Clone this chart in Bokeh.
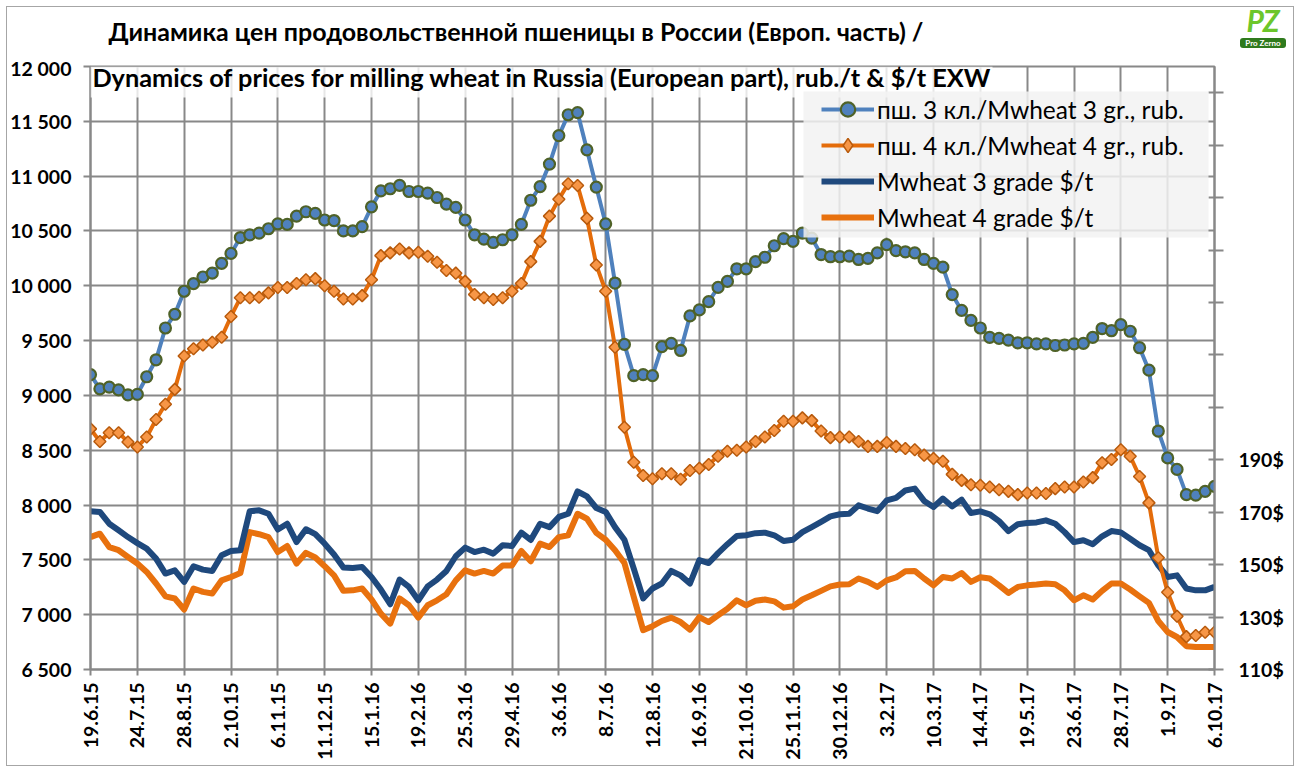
import math
from bokeh.plotting import figure
from bokeh.layouts import column
from bokeh.models import (Range1d, LinearAxis, FixedTicker, CustomJSTickFormatter,
                          Legend, LegendItem, Label, BoxAnnotation, Div)
from bokeh.embed import file_html
from bokeh.resources import INLINE

# ---------------- data ----------------
tick_labels = ["19.6.15", "24.7.15", "28.8.15", "2.10.15", "6.11.15", "11.12.15", "15.1.16",
               "19.2.16", "25.3.16", "29.4.16", "3.6.16", "8.7.16", "12.8.16", "16.9.16",
               "21.10.16", "25.11.16", "30.12.16", "3.2.17", "10.3.17", "14.4.17", "19.5.17",
               "23.6.17", "28.7.17", "1.9.17", "6.10.17"]
weeks_per_label = 5

rub3 = [9190, 9060, 9075, 9050, 9005, 9010, 9170, 9325, 9615, 9740,
        9950, 10020, 10080, 10115, 10205, 10295, 10440, 10465, 10480, 10520,
        10565, 10560, 10635, 10675, 10660, 10600, 10595, 10500, 10500, 10540,
        10720, 10865, 10885, 10915, 10860, 10860, 10845, 10805, 10745, 10715,
        10600, 10465, 10425, 10395, 10420, 10465, 10560, 10780, 10905, 11110,
        11370, 11560, 11580, 11240, 10900, 10565, 10025, 9465, 9180, 9190,
        9180, 9445, 9475, 9410, 9725, 9780, 9855, 9985, 10040, 10155,
        10155, 10220, 10260, 10365, 10430, 10405, 10480, 10435, 10285, 10265,
        10265, 10270, 10240, 10250, 10300, 10375, 10320, 10310, 10300, 10240,
        10205, 10170, 9920, 9775, 9685, 9615, 9530, 9520, 9505, 9480,
        9480, 9470, 9470, 9455, 9460, 9470, 9475, 9530, 9610, 9590,
        9645, 9585, 9435, 9230, 8675, 8430, 8325, 8095, 8090, 8125, 8170]

rub4 = [8695, 8580, 8660, 8660, 8575, 8530, 8620, 8780, 8920, 9055,
        9360, 9425, 9460, 9485, 9530, 9720, 9890, 9890, 9895, 9935,
        9985, 9985, 10020, 10055, 10065, 10000, 9950, 9880, 9880, 9910,
        10055, 10275, 10300, 10335, 10300, 10305, 10270, 10215, 10140, 10115,
        10040, 9920, 9890, 9875, 9890, 9950, 10020, 10220, 10405, 10635,
        10790, 10930, 10915, 10615, 10190, 9950, 9440, 8710, 8390, 8270,
        8240, 8285, 8285, 8235, 8315, 8335, 8370, 8445, 8490, 8500,
        8530, 8580, 8620, 8680, 8765, 8765, 8795, 8770, 8675, 8615,
        8620, 8620, 8580, 8535, 8535, 8570, 8535, 8515, 8505, 8455,
        8425, 8400, 8280, 8225, 8185, 8180, 8165, 8140, 8125, 8095,
        8110, 8110, 8105, 8150, 8165, 8165, 8210, 8250, 8385, 8415,
        8505, 8445, 8260, 8020, 7520, 7205, 6985, 6800, 6810, 6840, 6840]

usd3 = [170.4, 170.1, 165.6, 163.1, 160.5, 158.2, 156.1, 152.3, 146.6, 147.8,
        143.4, 149.4, 148.1, 147.6, 153.6, 155.2, 155.5, 170.4, 170.7, 169.4,
        163.4, 165.6, 158.6, 163.5, 161.6, 158.0, 153.9, 148.9, 148.7, 149.1,
        145.3, 140.5, 134.9, 144.3, 141.5, 136.4, 141.7, 144.3, 147.6, 153.2,
        156.5, 154.8, 155.7, 154.2, 157.4, 157.1, 162.2, 159.4, 165.6, 164.3,
        168.2, 169.4, 177.9, 176.0, 171.6, 170.1, 164.3, 159.5, 148.5, 137.1,
        140.9, 142.8, 147.6, 145.9, 142.8, 151.7, 150.6, 154.4, 157.8, 160.9,
        161.2, 162.0, 162.2, 161.2, 159.0, 159.5, 162.4, 164.3, 166.3, 168.4,
        169.2, 169.4, 172.6, 171.4, 170.4, 174.5, 175.5, 178.3, 179.0, 174.3,
        172.0, 175.2, 172.2, 174.8, 169.7, 170.3, 169.2, 166.6, 162.8, 165.4,
        165.9, 166.1, 166.9, 165.6, 162.4, 158.6, 159.3, 157.8, 160.8, 162.8,
        162.3, 159.9, 157.4, 155.5, 149.7, 145.3, 145.9, 140.9, 140.2, 140.2, 141.5]

usd4 = [160.5, 161.8, 156.7, 155.5, 152.9, 150.4, 147.2, 142.8, 137.9, 137.1,
        132.9, 140.9, 139.6, 139.0, 144.0, 145.3, 146.8, 162.4, 161.6, 160.5,
        154.8, 157.1, 150.4, 154.5, 152.7, 149.4, 145.9, 140.0, 140.2, 140.9,
        136.7, 131.3, 127.5, 137.1, 134.5, 129.8, 134.5, 136.4, 138.7, 144.0,
        147.8, 146.6, 147.6, 146.6, 149.7, 149.7, 155.2, 151.3, 158.0, 156.7,
        160.5, 161.2, 169.4, 167.5, 162.1, 159.5, 155.5, 150.6, 137.7, 125.0,
        126.5, 128.5, 129.8, 128.1, 125.2, 130.0, 128.1, 130.7, 133.2, 136.4,
        134.5, 136.2, 136.7, 136.0, 133.6, 134.1, 136.7, 138.3, 140.0, 141.7,
        142.4, 142.5, 144.7, 143.4, 141.5, 144.0, 145.1, 147.5, 147.6, 144.7,
        142.1, 145.3, 144.7, 146.8, 143.4, 145.2, 144.7, 142.1, 139.2, 141.5,
        142.1, 142.4, 142.8, 142.5, 140.2, 136.4, 138.3, 136.7, 140.0, 142.8,
        142.8, 140.5, 137.9, 135.4, 128.5, 124.3, 122.4, 118.9, 118.6, 118.6, 118.6]

names = ["пш. 3 кл./Mwheat 3 gr., rub.", "пш. 4 кл./Mwheat 4 gr., rub.",
         "Mwheat 3 grade $/t", "Mwheat 4 grade $/t"]
title1 = "Динамика цен продовольственной пшеницы в России (Европ. часть) /"
title2 = "Dynamics of prices for milling wheat in Russia (European part), rub./t & $/t EXW"
logo_text, logo_sub = "PZ", "Pro Zerno"

week = list(range(len(rub3)))

# ---------------- layout constants ----------------
W, H = 1300, 772
HEAD = 56                      # header strip (title line 1 + logo)
BL, BT = 90, 10                # main figure borders
FW, FH = 1124, 603
BR, BB = W - BL - FW, H - HEAD - BT - FH
FRAME_TOP = HEAD + BT          # page y of frame top
FRAME_BOTTOM = FRAME_TOP + FH  # page y of frame bottom
Y0, Y1 = 6500, 12000
U0, U1 = 110, 340
X0, X1 = 0, len(rub3) - 1


def px2x(px):  # page x pixel -> data x
    return X0 + (px - BL) / FW * (X1 - X0)


def py2y(py):  # page y pixel -> data y (left axis)
    return Y1 - (py - FRAME_TOP) / FH * (Y1 - Y0)


def sx(px):  # page x -> screen units of the main frame
    return px - BL


def sy(py):  # page y -> screen units of the main frame (upward from frame bottom)
    return FRAME_BOTTOM - py


GRID = "#888888"
FONT = "Lato"

# ---------------- header (title line 1 + logo) ----------------
head_html = f"""
<div style="position:relative;width:{W}px;height:{HEAD}px;font-family:Lato,sans-serif;">
  <div style="position:absolute;left:0;top:15px;width:1032px;text-align:center;
              font-weight:bold;font-size:25px;line-height:32px;color:#000;white-space:nowrap;">{title1}</div>
  <div style="position:absolute;left:1237px;top:7px;width:51px;height:41px;background:#fff;">
    <div style="position:absolute;left:0;top:-1px;width:51px;height:28px;text-align:center;
                font-weight:bold;font-style:italic;font-size:30px;line-height:28px;color:#6cc62b;
                letter-spacing:-1px;">{logo_text}</div>
    <div style="position:absolute;left:3px;top:31px;width:46px;height:10px;background:#2f7a1d;
                border-radius:3px;color:#fff;font-size:8px;line-height:10px;text-align:center;
                font-weight:bold;white-space:nowrap;">{logo_sub}</div>
  </div>
</div>"""
head = Div(text=head_html, width=W, height=HEAD, margin=0)

# ---------------- main figure ----------------
p = figure(width=W, height=H - HEAD, output_backend="svg", toolbar_location=None,
           x_range=Range1d(X0, X1), y_range=Range1d(Y0, Y1),
           min_border_left=BL, min_border_right=BR, min_border_top=BT, min_border_bottom=BB)
p.background_fill_color = "white"
p.border_fill_color = None
p.outline_line_color = GRID
p.outline_line_width = 2
p.extra_y_ranges = {"usd": Range1d(U0, U1)}

xticks = [i * weeks_per_label for i in range(len(tick_labels))]
yticks = list(range(Y0, Y1 + 1, 500))

p.xaxis.ticker = FixedTicker(ticks=xticks)
p.xaxis.formatter = CustomJSTickFormatter(args=dict(labels=tick_labels, step=weeks_per_label),
                                          code="return labels[Math.round(tick/step)] || '';")
p.xaxis.major_label_orientation = math.pi / 2
p.yaxis.ticker = FixedTicker(ticks=yticks)
p.yaxis.formatter = CustomJSTickFormatter(
    code="return Math.round(tick).toString().replace(/\\B(?=(\\d{3})+(?!\\d))/g, ' ');")

rax = LinearAxis(y_range_name="usd", ticker=FixedTicker(ticks=list(range(U0, 331, 20))),
                 formatter=CustomJSTickFormatter(code="return tick <= 190 ? tick + '$' : '';"))
p.add_layout(rax, "right")

for ax in [p.xaxis[0], p.yaxis[0], rax]:
    ax.axis_line_color = GRID
    ax.axis_line_width = 2
    ax.major_tick_line_color = GRID
    ax.major_tick_line_width = 2
    ax.minor_tick_line_color = None
    ax.major_label_text_font = FONT
    ax.major_label_text_font_style = "bold"
    ax.major_label_text_font_size = "19.5px"
    ax.major_label_text_color = "black"
p.xaxis.major_tick_in = 0
p.xaxis.major_tick_out = 6
p.xaxis.major_label_standoff = 7
p.yaxis[0].major_tick_in = 0
p.yaxis[0].major_tick_out = 7
p.yaxis[0].major_label_standoff = 12
rax.major_tick_in = 6
rax.major_tick_out = 9
rax.major_label_standoff = 15

p.xgrid.ticker = FixedTicker(ticks=xticks)
p.ygrid.ticker = FixedTicker(ticks=yticks)
p.grid.grid_line_color = GRID
p.grid.grid_line_width = 2

# ---------------- series ----------------
l4 = p.line(week, usd4, y_range_name="usd", line_color="#e8710e", line_width=6, line_join="round")
l3 = p.line(week, usd3, y_range_name="usd", line_color="#1f497d", line_width=6, line_join="round")
l2 = p.line(week, rub4, line_color="#e46c0a", line_width=4, line_join="round")
m2 = p.scatter(week, rub4, marker="square", angle=math.pi / 4, size=8.5,
               fill_color="#f79646", line_color="#b85a0c", line_width=1.5)
l1 = p.line(week, rub3, line_color="#4f81bd", line_width=4, line_join="round")
m1 = p.scatter(week, rub3, marker="circle", size=11,
               fill_color="#4f81bd", line_color="#4f6228", line_width=2.2)
# legend key only (a NaN point is never drawn) so the legend shows a diamond like the plot
m2_key = p.scatter(x=[float("nan")], y=[float("nan")], marker="diamond", size=15,
                   fill_color="#f79646", line_color="#b85a0c", line_width=1.5)

# ---------------- title line 2 (inside the plot area) ----------------
p.add_layout(BoxAnnotation(top=py2y(FRAME_TOP), bottom=py2y(97), right=px2x(992),
                           fill_color="white", fill_alpha=0.8, line_color=None))
p.add_layout(Label(x=sx(92), y=sy(76), x_units="screen", y_units="screen", text=title2,
                   text_font=FONT, text_font_style="bold", text_font_size="25.3px",
                   text_align="left", text_baseline="middle", text_color="black"))

# ---------------- legend ----------------
p.add_layout(BoxAnnotation(left=px2x(803), right=px2x(1208), top=py2y(91), bottom=py2y(237),
                           fill_color="#f2f2f2", fill_alpha=0.85, line_color=None))
legend = Legend(items=[LegendItem(label=names[0], renderers=[l1, m1]),
                       LegendItem(label=names[1], renderers=[l2, m2_key]),
                       LegendItem(label=names[2], renderers=[l3]),
                       LegendItem(label=names[3], renderers=[l4])],
                location=(sx(825) - 4, sy(235)),
                background_fill_alpha=0, border_line_color=None,
                label_text_font=FONT, label_text_font_size="24.5px", label_text_color="black",
                glyph_width=53, glyph_height=36, label_height=36, spacing=0,
                padding=4, margin=0, label_standoff=3)
p.add_layout(legend)

layout = column(head, p, spacing=0)
layout.styles = {"outline": "1.5px solid #a6a6a6", "outline-offset": "-7px",
                 "background-color": "white"}

open("out.html", "w").write(file_html(layout, INLINE))
